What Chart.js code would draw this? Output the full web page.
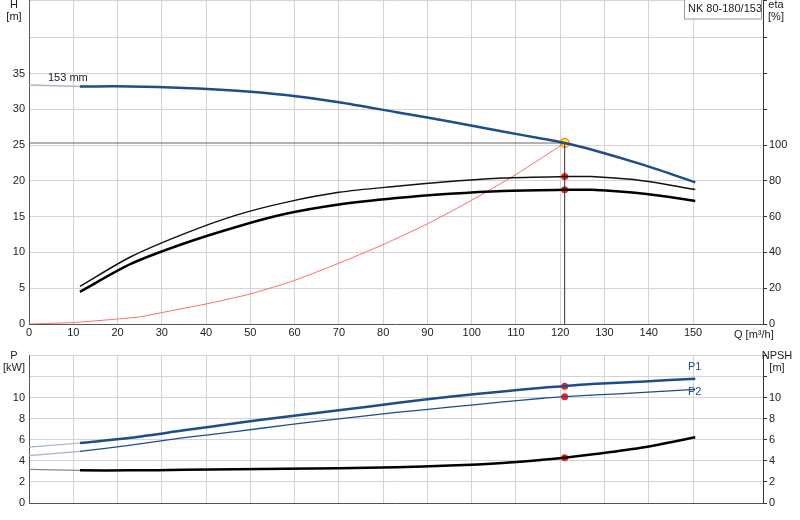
<!DOCTYPE html>
<html><head><meta charset="utf-8">
<script src="https://cdn.jsdelivr.net/npm/chart.js@4/dist/chart.umd.min.js"></script>
<style>body{margin:0;background:#fff;width:800px;height:520px;position:relative;overflow:hidden}
canvas{position:absolute;left:0}</style></head><body>
<div style="position:absolute;left:0;top:-10px;width:800px;height:355px"><canvas id="c1"></canvas></div>
<div style="position:absolute;left:0;top:345px;width:800px;height:175px"><canvas id="c2"></canvas></div>
<script>
const qCurve=[11.5,23,35,47,58,70,83,95,107,116,121,127,139,150.5];
const headH=[33.2,33.2,33.0,32.6,32.0,31.0,29.6,28.3,26.9,25.9,25.3,24.4,22.2,19.8];
const headStart=[[0,33.4],[11.5,33.2]];
const etaQ=[11.5,23,35,47,58,70,83,95,107,121,127,139,150.5];
const etaPump=[21,37.6,50.4,61,68,73.6,77,79.6,81.6,82.4,82.4,80,75.2];
const etaTotal=[18,33.6,45,54.4,61.6,66.8,70.4,72.8,74.4,75,75,72.8,68.8];
const sysQ=[0,10,20,25,30,40,50,60,70,80,90,100,110,121];
const sysH=[0,0.2,0.7,1.0,1.6,2.8,4.2,6.1,8.5,11.1,14.0,17.3,20.9,25.3];
const dutyQ=121, dutyH=25.3, dutyEtaP=82.4, dutyEtaT=75;
const p1=[5.7,6.2,6.9,7.6,8.2,8.8,9.5,10.1,10.6,10.95,11.1,11.3,11.55,11.8];
const p2=[4.9,5.5,6.2,6.8,7.4,8.0,8.6,9.1,9.6,9.95,10.1,10.25,10.5,10.8];
const npsh=[3.1,3.1,3.15,3.2,3.25,3.3,3.4,3.55,3.8,4.1,4.3,4.6,5.3,6.25];
const p1Start=[[0,5.3],[11.5,5.7]], p2Start=[[0,4.5],[11.5,4.9]], npshStart=[[0,3.2],[11.5,3.1]];
const dutyP1=11.1, dutyP2=10.1, dutyNpsh=4.3;

const F='"Liberation Sans", Arial, sans-serif';
Chart.defaults.font.family=F; Chart.defaults.font.size=11; Chart.defaults.color='#222';
Chart.defaults.animation=false;
const xy=(xs,ys)=>xs.map((x,i)=>({x,y:ys[i]}));
const pr=a=>a.map(p=>({x:p[0],y:p[1]}));
const L=(data,color,w,extra)=>Object.assign({type:'line',data,borderColor:color,borderWidth:w,pointRadius:0,fill:false,tension:0.3},extra||{});
const dot=(x,y,r,bg,bc,ax,bw)=>({type:'scatter',data:[{x,y}],pointRadius:r,backgroundColor:bg,borderColor:bc,borderWidth:bw||0,yAxisID:ax||'y'});
const XMAX=165.8;
const grid='#d4d4d4';
const fixW=(w)=>function(s){s.width=w;};

const txt={id:'txt',afterDraw(c,a,o){const g=c.ctx;g.save();g.font='11px '+F;g.fillStyle='#222';
 if(o.box){g.strokeStyle='#999';g.fillStyle='#fff';g.fillRect(684,8,78,21);g.strokeRect(684.5,8,77,21);g.fillStyle='#222';g.textAlign='left';g.fillText('NK 80-180/153',688,22);}
 (o.items||[]).forEach(t=>{g.textAlign=t.a||'left';g.fillStyle=t.c||'#222';g.fillText(t.s,t.x,t.y);});
 g.restore();}};

new Chart(document.getElementById('c1'),{
 data:{datasets:[
  L(pr(headStart),'#a9b8c8',1.5,{tension:0}),
  L(xy(qCurve,headH),'#1d4e89',2.5),
  L(xy(etaQ,etaPump),'#111',1.5,{yAxisID:'y2'}),
  L(xy(etaQ,etaTotal),'#000',2.5,{yAxisID:'y2'}),
  L(xy(sysQ,sysH),'#ff6b6b',1,{tension:0.2}),
  L([{x:0,y:dutyH},{x:dutyQ,y:dutyH}],'#666',1.2,{tension:0}),
  L([{x:dutyQ,y:0},{x:dutyQ,y:dutyH}],'#333',1,{tension:0}),
  dot(dutyQ,dutyEtaP,3.5,'#ff1a1a','#ff1a1a','y2'),
  dot(dutyQ,dutyEtaT,3.5,'#ff1a1a','#ff1a1a','y2'),
  dot(dutyQ,dutyH,4.5,'#ffe82a','#f07020','y',1.2)
 ]},
 options:{responsive:true,maintainAspectRatio:false,layout:{padding:0},
  plugins:{legend:{display:false},tooltip:{enabled:false},
   txt:{box:true,items:[{s:'H',x:14,y:18,a:'center'},{s:'[m]',x:14,y:30,a:'center'},{s:'eta',x:776,y:18,a:'center'},{s:'[%]',x:776,y:30,a:'center'},{s:'153 mm',x:48,y:91},{s:'Q [m³/h]',x:734,y:348}]}},
  scales:{
   x:{type:'linear',min:0,max:XMAX,afterFit(s){s.height=21;},
      ticks:{stepSize:10,autoSkip:false,maxRotation:0,padding:2,callback:v=>v<=150?v:''},
      grid:{color:grid,drawTicks:false},border:{color:'#555'}},
   y:{min:0,max:45.2,afterFit:fixW(29),ticks:{stepSize:5,padding:4,callback:v=>v<=35?v:''},
      grid:{color:grid,drawTicks:false},border:{color:'#555'}},
   y2:{position:'right',min:0,max:180.8,afterFit:fixW(37),ticks:{stepSize:20,padding:2,callback:v=>v<=100?v:''},
      grid:{display:true,drawOnChartArea:false,tickLength:4,color:'#333'},border:{color:'#333'}}
  }},
 plugins:[txt]});

new Chart(document.getElementById('c2'),{
 data:{datasets:[
  L(pr(p1Start),'#9fb4c9',1.2,{tension:0}),
  L(pr(p2Start),'#9fb4c9',1.2,{tension:0}),
  L(pr(npshStart),'#888',1.2,{tension:0}),
  L(xy(qCurve,p1),'#1d4e89',2.5),
  L(xy(qCurve,p2),'#1d4e89',1.3),
  L(xy(qCurve,npsh),'#000',2.5),
  dot(dutyQ,dutyP1,3.5,'#ff1a1a','#ff1a1a'),
  dot(dutyQ,dutyP2,3.5,'#ff1a1a','#ff1a1a'),
  dot(dutyQ,dutyNpsh,3.5,'#ff1a1a','#ff1a1a')
 ]},
 options:{responsive:true,maintainAspectRatio:false,layout:{padding:{top:1,bottom:17}},
  plugins:{legend:{display:false},tooltip:{enabled:false},
   txt:{items:[{s:'P',x:14,y:14,a:'center'},{s:'[kW]',x:14,y:26,a:'center'},{s:'NPSH',x:777,y:14,a:'center'},{s:'[m]',x:777,y:26,a:'center'},{s:'P1',x:688,y:25,c:'#1d4e89'},{s:'P2',x:688,y:50,c:'#1d4e89'}]}},
  scales:{
   x:{type:'linear',min:0,max:XMAX,ticks:{display:false,stepSize:10},
      grid:{color:grid,drawTicks:false},border:{color:'#555'}},
   y:{min:0,max:14,afterFit:fixW(29),ticks:{stepSize:2,padding:4,callback:v=>v<=10?v:''},
      grid:{color:grid,drawTicks:false},border:{color:'#555'}},
   y2:{position:'right',min:0,max:14,afterFit:fixW(37),ticks:{stepSize:2,padding:2,callback:v=>v<=10?v:''},
      grid:{display:true,drawOnChartArea:false,tickLength:4,color:'#333'},border:{color:'#333'}}
  }},
 plugins:[txt]});
</script></body></html>
